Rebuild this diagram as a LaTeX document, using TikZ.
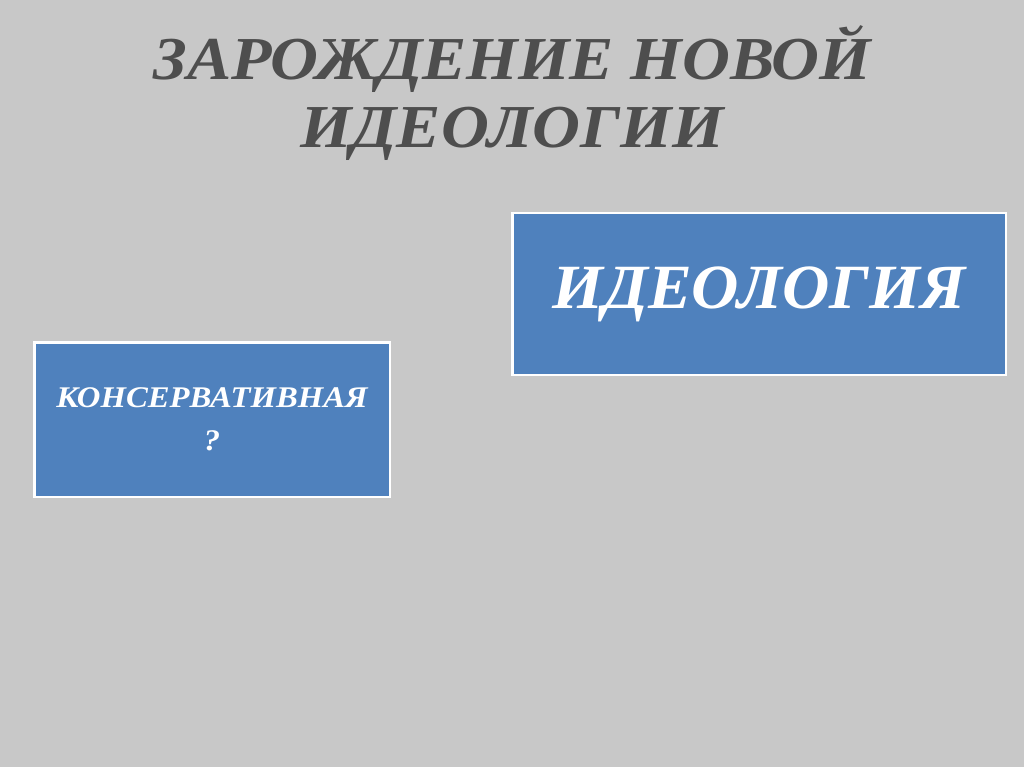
\documentclass[tikz,border=0pt]{standalone}
\usepackage{fontspec}
\setmainfont{Liberation Serif}
\newfontfamily\titlefont[FakeStretch=1.087]{Liberation Serif}
\newfontfamily\wideboxfont[FakeStretch=1.04]{Liberation Serif}
\newfontfamily\smallboxfont[FakeStretch=1.09]{Liberation Serif}
\usetikzlibrary{positioning}

\definecolor{slidegray}{RGB}{200,200,200}
\definecolor{titlegray}{RGB}{78,78,78}
\definecolor{boxblue}{RGB}{79,129,189}

\begin{document}
\begin{tikzpicture}[x=1pt, y=-1pt,
        box/.style={rectangle, draw=white, line width=2.5pt, fill=boxblue,
            text=white, align=center, inner sep=0pt},
        headline/.style={text=titlegray, align=center, inner sep=0pt}
    ]
        % Фон слайда
        \fill[slidegray] (0,0) rectangle (1024,767);
        \useasboundingbox (0,0) rectangle (1024,767);

        % Заголовок
        \node[headline, anchor=base,
            font=\titlefont\bfseries\itshape\fontsize{61}{68}\selectfont] (title) at (512,148)
            {ЗАРОЖДЕНИЕ НОВОЙ\\ИДЕОЛОГИИ};

        % Блоки
        \node[box, minimum width=493.5, minimum height=161.5,
            font=\wideboxfont\bfseries\itshape\fontsize{63}{70}\selectfont] (ideo) at (759,294)
            {ИДЕОЛОГИЯ};
        \node[box, minimum width=355.5, minimum height=154.5,
            font=\smallboxfont\bfseries\itshape\fontsize{30}{43}\selectfont] (konserv) at (212,419.5)
            {КОНСЕРВАТИВНАЯ\\?};
    \end{tikzpicture}
\end{document}
